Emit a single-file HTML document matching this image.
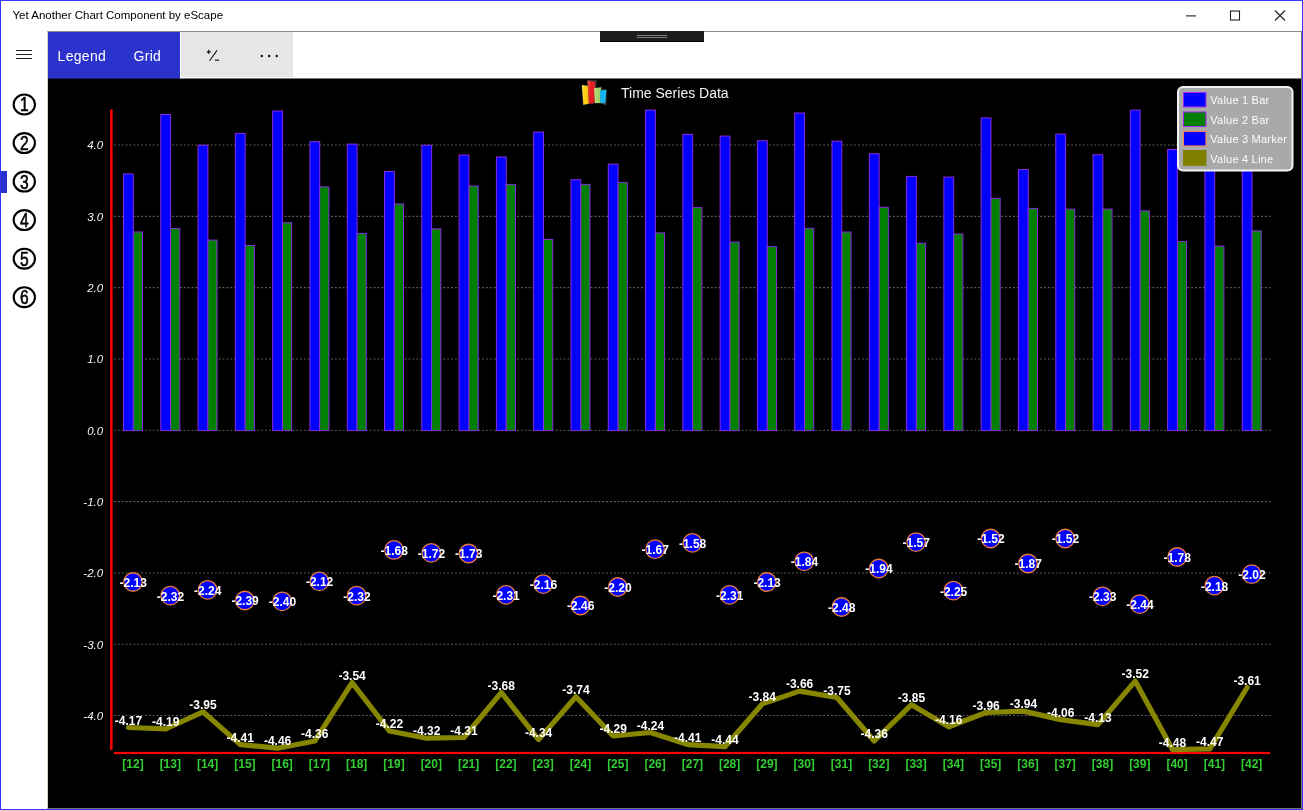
<!DOCTYPE html>
<html><head><meta charset="utf-8"><title>Yet Another Chart Component by eScape</title>
<style>
html,body{margin:0;padding:0;}
body{width:1303px;height:810px;overflow:hidden;background:#fff;position:relative;font-family:"Liberation Sans",sans-serif;}
.abs{position:absolute;}
#frame{left:0;top:0;width:1301px;height:808px;border:1px solid #3535fa;z-index:50;pointer-events:none;}
#frametop{left:0;top:0;width:1303px;height:1px;background:#3c3cff;z-index:51;}
#title{left:12.5px;top:8px;font-size:11.5px;line-height:15px;color:#000;white-space:nowrap;}
#panel{left:47px;top:31px;width:1253px;height:776px;border:1px solid #999;border-color:#8c8c8c #74746a #74746a #d6d3c2;background:#fff;}
#tb1{left:48px;top:32px;width:132px;height:46px;background:#2b33cc;}
#tb2{left:181px;top:32px;width:111.6px;height:45px;background:#e6e6e6;}
.tbt{color:#fff;font-size:14px;letter-spacing:0.3px;line-height:18px;top:47px;white-space:nowrap;}
#black{left:48px;top:78px;width:1253px;height:730px;background:#000;}
#tr1{left:48px;top:78px;width:132px;height:1px;background:#161c70;}
#tr2{left:180px;top:78px;width:1121px;height:1px;background:#7a7a7a;}
#grip{left:600px;top:31px;width:104px;height:10px;background:#1d1d1d;border-bottom:1px solid #000;box-sizing:border-box;height:11px;}
#sel{left:1px;top:171px;width:5.5px;height:22px;background:#2b33cc;}
svg.chart{position:absolute;left:0;top:0;}
svg text{font-family:"Liberation Sans",sans-serif;}
.yl{font-size:11.5px;font-style:italic;fill:#f2f2f2;}
.vl{font-size:12px;font-weight:bold;fill:#fff;}
.xl{font-size:12px;font-weight:bold;fill:#32cd32;}
.nd{font-size:20px;fill:#000;stroke:#000;stroke-width:0.6;}
#ctitle{left:621px;top:84px;color:#f4f4f4;font-size:14px;line-height:18px;white-space:nowrap;}
#legend{left:1177px;top:86px;width:112.2px;height:81.2px;border:2px solid #f2f2f2;border-radius:6px;background:#a9a9a9;}
.sw{position:absolute;left:4px;width:21.5px;height:13.5px;border:1px solid #a020f0;}
.lg{font-size:11px;letter-spacing:0.22px;fill:#fcfcfc;}
.lt{position:absolute;left:31.5px;font-size:11px;letter-spacing:0.22px;line-height:13px;color:#fcfcfc;white-space:nowrap;}
</style></head><body>
<div class="abs" id="title">Yet Another Chart Component by eScape</div>
<svg class="abs" style="left:1180px;top:5px" width="112" height="22" viewBox="0 0 112 22">
<path d="M6 10.9h10" stroke="#222" stroke-width="1.1" fill="none"/>
<rect x="50.5" y="6" width="9" height="9" stroke="#222" stroke-width="1.1" fill="none"/>
<path d="M95 5.5l10 10M105 5.5l-10 10" stroke="#222" stroke-width="1.1" fill="none"/>
</svg>
<div class="abs" id="panel"></div>
<div class="abs" id="tb1"></div>
<div class="abs" id="tb2"></div>
<div class="abs tbt" style="left:57.6px">Legend</div>
<div class="abs tbt" style="left:133.5px">Grid</div>
<svg class="abs" style="left:200px;top:44px" width="90" height="24" viewBox="0 0 90 24">
<path d="M6.6 7.9h4.2M8.7 5.8v4.2" stroke="#111" stroke-width="1.1" fill="none"/>
<path d="M17 6.4L9.6 16.7" stroke="#111" stroke-width="1.1" fill="none"/>
<path d="M14.9 16.2h4.2" stroke="#111" stroke-width="1.1" fill="none"/>
<circle cx="61.8" cy="12.1" r="1.25" fill="#111"/><circle cx="69.2" cy="12.1" r="1.25" fill="#111"/><circle cx="76.7" cy="12.1" r="1.25" fill="#111"/>
</svg>
<svg class="abs" style="left:12px;top:46px" width="24" height="16" viewBox="0 0 24 16">
<rect x="4" y="4" width="16" height="1" fill="#222"/><rect x="4" y="8" width="16" height="1" fill="#222"/><rect x="4" y="12" width="16" height="1" fill="#222"/>
</svg>
<div class="abs" id="grip"></div>
<div class="abs" style="left:637px;top:35px;width:30px;height:1px;background:#7a7a7a"></div>
<div class="abs" style="left:637px;top:37px;width:30px;height:1px;background:#7a7a7a"></div>
<div class="abs" id="sel"></div>
<div class="abs" id="black"></div><div class="abs" id="tr1"></div><div class="abs" id="tr2"></div>
<svg class="abs" style="left:0;top:0" width="60" height="330" viewBox="0 0 60 330">
<ellipse cx="24.3" cy="104.5" rx="10.65" ry="9.95" fill="none" stroke="#000" stroke-width="2.1"/>
<text transform="translate(24.3 111.4) scale(0.78 1)" text-anchor="middle" class="nd">1</text>
<ellipse cx="24.3" cy="143.1" rx="10.65" ry="9.95" fill="none" stroke="#000" stroke-width="2.1"/>
<text transform="translate(24.3 150.0) scale(0.78 1)" text-anchor="middle" class="nd">2</text>
<ellipse cx="24.3" cy="181.6" rx="10.65" ry="9.95" fill="none" stroke="#000" stroke-width="2.1"/>
<text transform="translate(24.3 188.5) scale(0.78 1)" text-anchor="middle" class="nd">3</text>
<ellipse cx="24.3" cy="220.1" rx="10.65" ry="9.95" fill="none" stroke="#000" stroke-width="2.1"/>
<text transform="translate(24.3 227.0) scale(0.78 1)" text-anchor="middle" class="nd">4</text>
<ellipse cx="24.3" cy="258.7" rx="10.65" ry="9.95" fill="none" stroke="#000" stroke-width="2.1"/>
<text transform="translate(24.3 265.6) scale(0.78 1)" text-anchor="middle" class="nd">5</text>
<ellipse cx="24.3" cy="297.2" rx="10.65" ry="9.95" fill="none" stroke="#000" stroke-width="2.1"/>
<text transform="translate(24.3 304.1) scale(0.78 1)" text-anchor="middle" class="nd">6</text>
</svg>
<svg class="chart" width="1303" height="810" viewBox="0 0 1303 810">
<line x1="114" x2="1270.5" y1="715.56" y2="715.56" stroke="#606060" stroke-width="1.1" stroke-dasharray="1.9 1.975"/>
<line x1="114" x2="1270.5" y1="644.25" y2="644.25" stroke="#606060" stroke-width="1.1" stroke-dasharray="1.9 1.975"/>
<line x1="114" x2="1270.5" y1="572.93" y2="572.93" stroke="#606060" stroke-width="1.1" stroke-dasharray="1.9 1.975"/>
<line x1="114" x2="1270.5" y1="501.62" y2="501.62" stroke="#606060" stroke-width="1.1" stroke-dasharray="1.9 1.975"/>
<line x1="114" x2="1270.5" y1="430.30" y2="430.30" stroke="#606060" stroke-width="1.1" stroke-dasharray="1.9 1.975"/>
<line x1="114" x2="1270.5" y1="358.99" y2="358.99" stroke="#606060" stroke-width="1.1" stroke-dasharray="1.9 1.975"/>
<line x1="114" x2="1270.5" y1="287.67" y2="287.67" stroke="#606060" stroke-width="1.1" stroke-dasharray="1.9 1.975"/>
<line x1="114" x2="1270.5" y1="216.36" y2="216.36" stroke="#606060" stroke-width="1.1" stroke-dasharray="1.9 1.975"/>
<line x1="114" x2="1270.5" y1="145.04" y2="145.04" stroke="#606060" stroke-width="1.1" stroke-dasharray="1.9 1.975"/>
<text x="103.2" y="719.9" text-anchor="end" class="yl">-4.0</text>
<text x="103.2" y="648.5" text-anchor="end" class="yl">-3.0</text>
<text x="103.2" y="577.2" text-anchor="end" class="yl">-2.0</text>
<text x="103.2" y="505.9" text-anchor="end" class="yl">-1.0</text>
<text x="103.2" y="434.6" text-anchor="end" class="yl">0.0</text>
<text x="103.2" y="363.3" text-anchor="end" class="yl">1.0</text>
<text x="103.2" y="292.0" text-anchor="end" class="yl">2.0</text>
<text x="103.2" y="220.7" text-anchor="end" class="yl">3.0</text>
<text x="103.2" y="149.3" text-anchor="end" class="yl">4.0</text>
<rect x="123.50" y="173.9" width="9.8" height="256.7" fill="#0000ff" stroke="#8a2be2" stroke-width="1"/>
<rect x="133.30" y="232.0" width="9.2" height="198.6" fill="#008000" stroke="#8a2be2" stroke-width="1"/>
<rect x="160.79" y="114.5" width="9.8" height="316.1" fill="#0000ff" stroke="#8a2be2" stroke-width="1"/>
<rect x="170.59" y="228.5" width="9.2" height="202.1" fill="#008000" stroke="#8a2be2" stroke-width="1"/>
<rect x="198.08" y="145.2" width="9.8" height="285.4" fill="#0000ff" stroke="#8a2be2" stroke-width="1"/>
<rect x="207.88" y="240.1" width="9.2" height="190.5" fill="#008000" stroke="#8a2be2" stroke-width="1"/>
<rect x="235.37" y="133.4" width="9.8" height="297.2" fill="#0000ff" stroke="#8a2be2" stroke-width="1"/>
<rect x="245.17" y="245.4" width="9.2" height="185.2" fill="#008000" stroke="#8a2be2" stroke-width="1"/>
<rect x="272.66" y="111.0" width="9.8" height="319.6" fill="#0000ff" stroke="#8a2be2" stroke-width="1"/>
<rect x="282.46" y="222.7" width="9.2" height="207.9" fill="#008000" stroke="#8a2be2" stroke-width="1"/>
<rect x="309.95" y="141.7" width="9.8" height="288.9" fill="#0000ff" stroke="#8a2be2" stroke-width="1"/>
<rect x="319.75" y="186.9" width="9.2" height="243.7" fill="#008000" stroke="#8a2be2" stroke-width="1"/>
<rect x="347.24" y="144.1" width="9.8" height="286.5" fill="#0000ff" stroke="#8a2be2" stroke-width="1"/>
<rect x="357.04" y="233.4" width="9.2" height="197.2" fill="#008000" stroke="#8a2be2" stroke-width="1"/>
<rect x="384.53" y="171.5" width="9.8" height="259.1" fill="#0000ff" stroke="#8a2be2" stroke-width="1"/>
<rect x="394.33" y="204.0" width="9.2" height="226.6" fill="#008000" stroke="#8a2be2" stroke-width="1"/>
<rect x="421.82" y="145.2" width="9.8" height="285.4" fill="#0000ff" stroke="#8a2be2" stroke-width="1"/>
<rect x="431.62" y="228.9" width="9.2" height="201.7" fill="#008000" stroke="#8a2be2" stroke-width="1"/>
<rect x="459.11" y="155.0" width="9.8" height="275.6" fill="#0000ff" stroke="#8a2be2" stroke-width="1"/>
<rect x="468.91" y="186.0" width="9.2" height="244.6" fill="#008000" stroke="#8a2be2" stroke-width="1"/>
<rect x="496.40" y="157.0" width="9.8" height="273.6" fill="#0000ff" stroke="#8a2be2" stroke-width="1"/>
<rect x="506.20" y="184.4" width="9.2" height="246.2" fill="#008000" stroke="#8a2be2" stroke-width="1"/>
<rect x="533.69" y="132.1" width="9.8" height="298.5" fill="#0000ff" stroke="#8a2be2" stroke-width="1"/>
<rect x="543.49" y="239.4" width="9.2" height="191.2" fill="#008000" stroke="#8a2be2" stroke-width="1"/>
<rect x="570.98" y="179.7" width="9.8" height="250.9" fill="#0000ff" stroke="#8a2be2" stroke-width="1"/>
<rect x="580.78" y="184.4" width="9.2" height="246.2" fill="#008000" stroke="#8a2be2" stroke-width="1"/>
<rect x="608.27" y="164.2" width="9.8" height="266.4" fill="#0000ff" stroke="#8a2be2" stroke-width="1"/>
<rect x="618.07" y="182.4" width="9.2" height="248.2" fill="#008000" stroke="#8a2be2" stroke-width="1"/>
<rect x="645.56" y="110.1" width="9.8" height="320.5" fill="#0000ff" stroke="#8a2be2" stroke-width="1"/>
<rect x="655.36" y="232.9" width="9.2" height="197.7" fill="#008000" stroke="#8a2be2" stroke-width="1"/>
<rect x="682.85" y="134.3" width="9.8" height="296.3" fill="#0000ff" stroke="#8a2be2" stroke-width="1"/>
<rect x="692.65" y="207.6" width="9.2" height="223.0" fill="#008000" stroke="#8a2be2" stroke-width="1"/>
<rect x="720.14" y="136.1" width="9.8" height="294.5" fill="#0000ff" stroke="#8a2be2" stroke-width="1"/>
<rect x="729.94" y="242.1" width="9.2" height="188.5" fill="#008000" stroke="#8a2be2" stroke-width="1"/>
<rect x="757.43" y="140.8" width="9.8" height="289.8" fill="#0000ff" stroke="#8a2be2" stroke-width="1"/>
<rect x="767.23" y="246.7" width="9.2" height="183.9" fill="#008000" stroke="#8a2be2" stroke-width="1"/>
<rect x="794.72" y="113.0" width="9.8" height="317.6" fill="#0000ff" stroke="#8a2be2" stroke-width="1"/>
<rect x="804.52" y="228.3" width="9.2" height="202.3" fill="#008000" stroke="#8a2be2" stroke-width="1"/>
<rect x="832.01" y="141.2" width="9.8" height="289.4" fill="#0000ff" stroke="#8a2be2" stroke-width="1"/>
<rect x="841.81" y="232.0" width="9.2" height="198.6" fill="#008000" stroke="#8a2be2" stroke-width="1"/>
<rect x="869.30" y="153.7" width="9.8" height="276.9" fill="#0000ff" stroke="#8a2be2" stroke-width="1"/>
<rect x="879.10" y="207.3" width="9.2" height="223.3" fill="#008000" stroke="#8a2be2" stroke-width="1"/>
<rect x="906.59" y="176.4" width="9.8" height="254.2" fill="#0000ff" stroke="#8a2be2" stroke-width="1"/>
<rect x="916.39" y="243.2" width="9.2" height="187.4" fill="#008000" stroke="#8a2be2" stroke-width="1"/>
<rect x="943.88" y="177.1" width="9.8" height="253.5" fill="#0000ff" stroke="#8a2be2" stroke-width="1"/>
<rect x="953.68" y="234.0" width="9.2" height="196.6" fill="#008000" stroke="#8a2be2" stroke-width="1"/>
<rect x="981.17" y="117.9" width="9.8" height="312.7" fill="#0000ff" stroke="#8a2be2" stroke-width="1"/>
<rect x="990.97" y="198.4" width="9.2" height="232.2" fill="#008000" stroke="#8a2be2" stroke-width="1"/>
<rect x="1018.46" y="169.5" width="9.8" height="261.1" fill="#0000ff" stroke="#8a2be2" stroke-width="1"/>
<rect x="1028.26" y="208.4" width="9.2" height="222.2" fill="#008000" stroke="#8a2be2" stroke-width="1"/>
<rect x="1055.75" y="134.1" width="9.8" height="296.5" fill="#0000ff" stroke="#8a2be2" stroke-width="1"/>
<rect x="1065.55" y="209.1" width="9.2" height="221.5" fill="#008000" stroke="#8a2be2" stroke-width="1"/>
<rect x="1093.04" y="154.8" width="9.8" height="275.8" fill="#0000ff" stroke="#8a2be2" stroke-width="1"/>
<rect x="1102.84" y="209.1" width="9.2" height="221.5" fill="#008000" stroke="#8a2be2" stroke-width="1"/>
<rect x="1130.33" y="110.1" width="9.8" height="320.5" fill="#0000ff" stroke="#8a2be2" stroke-width="1"/>
<rect x="1140.13" y="210.9" width="9.2" height="219.7" fill="#008000" stroke="#8a2be2" stroke-width="1"/>
<rect x="1167.62" y="149.5" width="9.8" height="281.1" fill="#0000ff" stroke="#8a2be2" stroke-width="1"/>
<rect x="1177.42" y="241.6" width="9.2" height="189.0" fill="#008000" stroke="#8a2be2" stroke-width="1"/>
<rect x="1204.91" y="150.5" width="9.8" height="280.1" fill="#0000ff" stroke="#8a2be2" stroke-width="1"/>
<rect x="1214.71" y="246.1" width="9.2" height="184.5" fill="#008000" stroke="#8a2be2" stroke-width="1"/>
<rect x="1242.20" y="160.5" width="9.8" height="270.1" fill="#0000ff" stroke="#8a2be2" stroke-width="1"/>
<rect x="1252.00" y="230.9" width="9.2" height="199.7" fill="#008000" stroke="#8a2be2" stroke-width="1"/>
<rect x="110.1" y="109.4" width="2.5" height="640.5" fill="#ff0000"/>
<rect x="114" y="751.9" width="1156.1" height="2.2" fill="#ff0000"/>
<polyline points="128.4,727.5 165.7,728.9 203.0,711.8 240.3,744.6 277.6,748.2 314.8,741.0 352.1,682.6 389.4,731.0 426.7,738.2 464.0,737.5 501.3,692.5 538.6,739.6 575.9,696.8 613.2,736.0 650.5,732.5 687.8,744.6 725.0,746.7 762.3,703.9 799.6,691.1 836.9,697.5 874.2,741.0 911.5,704.7 948.8,726.8 986.1,712.5 1023.4,711.1 1060.7,719.6 1097.9,724.6 1135.2,681.1 1172.5,749.6 1209.8,748.9 1247.1,687.5" fill="none" stroke="#868600" stroke-width="5.2" stroke-linejoin="round" stroke-linecap="round"/>
<circle cx="133.0" cy="582.0" r="9.25" fill="#0000ff" stroke="#ee7a38" stroke-width="1.3"/>
<circle cx="170.3" cy="595.6" r="9.25" fill="#0000ff" stroke="#ee7a38" stroke-width="1.3"/>
<circle cx="207.6" cy="589.8" r="9.25" fill="#0000ff" stroke="#ee7a38" stroke-width="1.3"/>
<circle cx="244.9" cy="600.5" r="9.25" fill="#0000ff" stroke="#ee7a38" stroke-width="1.3"/>
<circle cx="282.2" cy="601.3" r="9.25" fill="#0000ff" stroke="#ee7a38" stroke-width="1.3"/>
<circle cx="319.4" cy="581.3" r="9.25" fill="#0000ff" stroke="#ee7a38" stroke-width="1.3"/>
<circle cx="356.7" cy="595.6" r="9.25" fill="#0000ff" stroke="#ee7a38" stroke-width="1.3"/>
<circle cx="394.0" cy="549.9" r="9.25" fill="#0000ff" stroke="#ee7a38" stroke-width="1.3"/>
<circle cx="431.3" cy="552.8" r="9.25" fill="#0000ff" stroke="#ee7a38" stroke-width="1.3"/>
<circle cx="468.6" cy="553.5" r="9.25" fill="#0000ff" stroke="#ee7a38" stroke-width="1.3"/>
<circle cx="505.9" cy="594.8" r="9.25" fill="#0000ff" stroke="#ee7a38" stroke-width="1.3"/>
<circle cx="543.2" cy="584.1" r="9.25" fill="#0000ff" stroke="#ee7a38" stroke-width="1.3"/>
<circle cx="580.5" cy="605.5" r="9.25" fill="#0000ff" stroke="#ee7a38" stroke-width="1.3"/>
<circle cx="617.8" cy="587.0" r="9.25" fill="#0000ff" stroke="#ee7a38" stroke-width="1.3"/>
<circle cx="655.1" cy="549.2" r="9.25" fill="#0000ff" stroke="#ee7a38" stroke-width="1.3"/>
<circle cx="692.4" cy="542.8" r="9.25" fill="#0000ff" stroke="#ee7a38" stroke-width="1.3"/>
<circle cx="729.6" cy="594.8" r="9.25" fill="#0000ff" stroke="#ee7a38" stroke-width="1.3"/>
<circle cx="766.9" cy="582.0" r="9.25" fill="#0000ff" stroke="#ee7a38" stroke-width="1.3"/>
<circle cx="804.2" cy="561.3" r="9.25" fill="#0000ff" stroke="#ee7a38" stroke-width="1.3"/>
<circle cx="841.5" cy="607.0" r="9.25" fill="#0000ff" stroke="#ee7a38" stroke-width="1.3"/>
<circle cx="878.8" cy="568.5" r="9.25" fill="#0000ff" stroke="#ee7a38" stroke-width="1.3"/>
<circle cx="916.1" cy="542.1" r="9.25" fill="#0000ff" stroke="#ee7a38" stroke-width="1.3"/>
<circle cx="953.4" cy="590.6" r="9.25" fill="#0000ff" stroke="#ee7a38" stroke-width="1.3"/>
<circle cx="990.7" cy="538.5" r="9.25" fill="#0000ff" stroke="#ee7a38" stroke-width="1.3"/>
<circle cx="1028.0" cy="563.5" r="9.25" fill="#0000ff" stroke="#ee7a38" stroke-width="1.3"/>
<circle cx="1065.2" cy="538.5" r="9.25" fill="#0000ff" stroke="#ee7a38" stroke-width="1.3"/>
<circle cx="1102.5" cy="596.3" r="9.25" fill="#0000ff" stroke="#ee7a38" stroke-width="1.3"/>
<circle cx="1139.8" cy="604.1" r="9.25" fill="#0000ff" stroke="#ee7a38" stroke-width="1.3"/>
<circle cx="1177.1" cy="557.0" r="9.25" fill="#0000ff" stroke="#ee7a38" stroke-width="1.3"/>
<circle cx="1214.4" cy="585.6" r="9.25" fill="#0000ff" stroke="#ee7a38" stroke-width="1.3"/>
<circle cx="1251.7" cy="574.2" r="9.25" fill="#0000ff" stroke="#ee7a38" stroke-width="1.3"/>
<text x="133.2" y="586.9" text-anchor="middle" class="vl">-2.13</text>
<text x="170.5" y="600.5" text-anchor="middle" class="vl">-2.32</text>
<text x="207.8" y="594.7" text-anchor="middle" class="vl">-2.24</text>
<text x="245.1" y="605.4" text-anchor="middle" class="vl">-2.39</text>
<text x="282.4" y="606.2" text-anchor="middle" class="vl">-2.40</text>
<text x="319.6" y="586.2" text-anchor="middle" class="vl">-2.12</text>
<text x="356.9" y="600.5" text-anchor="middle" class="vl">-2.32</text>
<text x="394.2" y="554.8" text-anchor="middle" class="vl">-1.68</text>
<text x="431.5" y="557.7" text-anchor="middle" class="vl">-1.72</text>
<text x="468.8" y="558.4" text-anchor="middle" class="vl">-1.73</text>
<text x="506.1" y="599.7" text-anchor="middle" class="vl">-2.31</text>
<text x="543.4" y="589.0" text-anchor="middle" class="vl">-2.16</text>
<text x="580.7" y="610.4" text-anchor="middle" class="vl">-2.46</text>
<text x="618.0" y="591.9" text-anchor="middle" class="vl">-2.20</text>
<text x="655.3" y="554.1" text-anchor="middle" class="vl">-1.67</text>
<text x="692.6" y="547.7" text-anchor="middle" class="vl">-1.58</text>
<text x="729.8" y="599.7" text-anchor="middle" class="vl">-2.31</text>
<text x="767.1" y="586.9" text-anchor="middle" class="vl">-2.13</text>
<text x="804.4" y="566.2" text-anchor="middle" class="vl">-1.84</text>
<text x="841.7" y="611.9" text-anchor="middle" class="vl">-2.48</text>
<text x="879.0" y="573.4" text-anchor="middle" class="vl">-1.94</text>
<text x="916.3" y="547.0" text-anchor="middle" class="vl">-1.57</text>
<text x="953.6" y="595.5" text-anchor="middle" class="vl">-2.25</text>
<text x="990.9" y="543.4" text-anchor="middle" class="vl">-1.52</text>
<text x="1028.2" y="568.4" text-anchor="middle" class="vl">-1.87</text>
<text x="1065.5" y="543.4" text-anchor="middle" class="vl">-1.52</text>
<text x="1102.7" y="601.2" text-anchor="middle" class="vl">-2.33</text>
<text x="1140.0" y="609.0" text-anchor="middle" class="vl">-2.44</text>
<text x="1177.3" y="561.9" text-anchor="middle" class="vl">-1.78</text>
<text x="1214.6" y="590.5" text-anchor="middle" class="vl">-2.18</text>
<text x="1251.9" y="579.1" text-anchor="middle" class="vl">-2.02</text>
<text x="128.4" y="724.7" text-anchor="middle" class="vl">-4.17</text>
<text x="165.7" y="726.1" text-anchor="middle" class="vl">-4.19</text>
<text x="203.0" y="709.0" text-anchor="middle" class="vl">-3.95</text>
<text x="240.3" y="741.8" text-anchor="middle" class="vl">-4.41</text>
<text x="277.6" y="745.4" text-anchor="middle" class="vl">-4.46</text>
<text x="314.8" y="738.2" text-anchor="middle" class="vl">-4.36</text>
<text x="352.1" y="679.8" text-anchor="middle" class="vl">-3.54</text>
<text x="389.4" y="728.2" text-anchor="middle" class="vl">-4.22</text>
<text x="426.7" y="735.4" text-anchor="middle" class="vl">-4.32</text>
<text x="464.0" y="734.7" text-anchor="middle" class="vl">-4.31</text>
<text x="501.3" y="689.7" text-anchor="middle" class="vl">-3.68</text>
<text x="538.6" y="736.8" text-anchor="middle" class="vl">-4.34</text>
<text x="575.9" y="694.0" text-anchor="middle" class="vl">-3.74</text>
<text x="613.2" y="733.2" text-anchor="middle" class="vl">-4.29</text>
<text x="650.5" y="729.7" text-anchor="middle" class="vl">-4.24</text>
<text x="687.8" y="741.8" text-anchor="middle" class="vl">-4.41</text>
<text x="725.0" y="743.9" text-anchor="middle" class="vl">-4.44</text>
<text x="762.3" y="701.1" text-anchor="middle" class="vl">-3.84</text>
<text x="799.6" y="688.3" text-anchor="middle" class="vl">-3.66</text>
<text x="836.9" y="694.7" text-anchor="middle" class="vl">-3.75</text>
<text x="874.2" y="738.2" text-anchor="middle" class="vl">-4.36</text>
<text x="911.5" y="701.9" text-anchor="middle" class="vl">-3.85</text>
<text x="948.8" y="724.0" text-anchor="middle" class="vl">-4.16</text>
<text x="986.1" y="709.7" text-anchor="middle" class="vl">-3.96</text>
<text x="1023.4" y="708.3" text-anchor="middle" class="vl">-3.94</text>
<text x="1060.7" y="716.8" text-anchor="middle" class="vl">-4.06</text>
<text x="1097.9" y="721.8" text-anchor="middle" class="vl">-4.13</text>
<text x="1135.2" y="678.3" text-anchor="middle" class="vl">-3.52</text>
<text x="1172.5" y="746.8" text-anchor="middle" class="vl">-4.48</text>
<text x="1209.8" y="746.1" text-anchor="middle" class="vl">-4.47</text>
<text x="1247.1" y="684.7" text-anchor="middle" class="vl">-3.61</text>
<text x="133.0" y="768.0" text-anchor="middle" class="xl">[12]</text>
<text x="170.3" y="768.0" text-anchor="middle" class="xl">[13]</text>
<text x="207.6" y="768.0" text-anchor="middle" class="xl">[14]</text>
<text x="244.9" y="768.0" text-anchor="middle" class="xl">[15]</text>
<text x="282.2" y="768.0" text-anchor="middle" class="xl">[16]</text>
<text x="319.4" y="768.0" text-anchor="middle" class="xl">[17]</text>
<text x="356.7" y="768.0" text-anchor="middle" class="xl">[18]</text>
<text x="394.0" y="768.0" text-anchor="middle" class="xl">[19]</text>
<text x="431.3" y="768.0" text-anchor="middle" class="xl">[20]</text>
<text x="468.6" y="768.0" text-anchor="middle" class="xl">[21]</text>
<text x="505.9" y="768.0" text-anchor="middle" class="xl">[22]</text>
<text x="543.2" y="768.0" text-anchor="middle" class="xl">[23]</text>
<text x="580.5" y="768.0" text-anchor="middle" class="xl">[24]</text>
<text x="617.8" y="768.0" text-anchor="middle" class="xl">[25]</text>
<text x="655.1" y="768.0" text-anchor="middle" class="xl">[26]</text>
<text x="692.4" y="768.0" text-anchor="middle" class="xl">[27]</text>
<text x="729.6" y="768.0" text-anchor="middle" class="xl">[28]</text>
<text x="766.9" y="768.0" text-anchor="middle" class="xl">[29]</text>
<text x="804.2" y="768.0" text-anchor="middle" class="xl">[30]</text>
<text x="841.5" y="768.0" text-anchor="middle" class="xl">[31]</text>
<text x="878.8" y="768.0" text-anchor="middle" class="xl">[32]</text>
<text x="916.1" y="768.0" text-anchor="middle" class="xl">[33]</text>
<text x="953.4" y="768.0" text-anchor="middle" class="xl">[34]</text>
<text x="990.7" y="768.0" text-anchor="middle" class="xl">[35]</text>
<text x="1028.0" y="768.0" text-anchor="middle" class="xl">[36]</text>
<text x="1065.2" y="768.0" text-anchor="middle" class="xl">[37]</text>
<text x="1102.5" y="768.0" text-anchor="middle" class="xl">[38]</text>
<text x="1139.8" y="768.0" text-anchor="middle" class="xl">[39]</text>
<text x="1177.1" y="768.0" text-anchor="middle" class="xl">[40]</text>
<text x="1214.4" y="768.0" text-anchor="middle" class="xl">[41]</text>
<text x="1251.7" y="768.0" text-anchor="middle" class="xl">[42]</text>
</svg>
<svg class="abs" style="left:575px;top:76px" width="40" height="34" viewBox="575 76 40 34">
<defs>
<linearGradient id="gy" x1="0" y1="0" x2="1" y2="0"><stop offset="0" stop-color="#ffe24a"/><stop offset="0.45" stop-color="#ffd012"/><stop offset="1" stop-color="#fdb813"/></linearGradient>
<linearGradient id="gr" x1="0" y1="0" x2="1" y2="0.3"><stop offset="0" stop-color="#f4583e"/><stop offset="0.5" stop-color="#e81c24"/><stop offset="1" stop-color="#e0202a"/></linearGradient>
<linearGradient id="gg" x1="0" y1="0" x2="1" y2="0"><stop offset="0" stop-color="#b6e384"/><stop offset="0.6" stop-color="#a4d466"/><stop offset="1" stop-color="#9acb5c"/></linearGradient>
<linearGradient id="gb" x1="0" y1="0" x2="1" y2="0"><stop offset="0" stop-color="#0cb0f2"/><stop offset="1" stop-color="#1ab8f8"/></linearGradient>
</defs>
<polygon points="587,79.9 596.8,80.3 596,88 602.3,86.4 602,89.6 606.9,89.2 606.4,105.2 600.5,103.6 594.8,103.4 589,104 583,105.4 581.5,84.7 587.4,85.4" fill="#3a3a3a"/>
<polygon points="581.9,85 587.8,85.9 588.9,103.5 583.4,104.8" fill="url(#gy)"/>
<polygon points="587.6,80.6 595.2,81.9 594.7,102.9 589.1,103.7" fill="url(#gr)"/>
<polygon points="594.1,88 601.1,87.6 600.6,102.9 595,102.9" fill="url(#gg)"/>
<polygon points="600,90.5 606.3,89.9 605.3,103.3 600.6,102.9" fill="url(#gb)"/>
</svg>
<div class="abs" id="ctitle">Time Series Data</div>
<svg class="abs" style="left:0;top:0" width="1303" height="200" viewBox="0 0 1303 200">
<rect x="1178" y="87" width="114.5" height="83.6" rx="5" ry="5" fill="#a9a9a9" stroke="#f2f2f2" stroke-width="2"/>
<rect x="1183.5" y="92.5" width="22.4" height="14.4" fill="#0000ff" stroke="#a020f0" stroke-width="1"/>
<rect x="1183.5" y="112" width="22.4" height="14.4" fill="#008000" stroke="#a020f0" stroke-width="1"/>
<rect x="1183.5" y="131.4" width="22.4" height="14.5" fill="#0000ff" stroke="#ff7f50" stroke-width="1"/>
<rect x="1183" y="150" width="23.4" height="15.8" fill="#808000"/>
<text x="1210.3" y="104.3" class="lg">Value 1 Bar</text>
<text x="1210.3" y="123.8" class="lg">Value 2 Bar</text>
<text x="1210.3" y="143.2" class="lg">Value 3 Marker</text>
<text x="1210.3" y="162.5" class="lg">Value 4 Line</text>
</svg>
<div class="abs" id="frame"></div>
<div class="abs" id="frametop"></div>
</body></html>
